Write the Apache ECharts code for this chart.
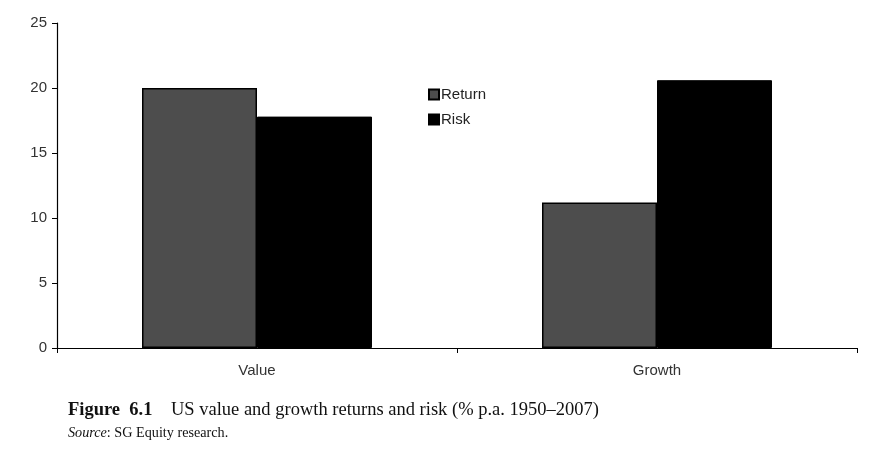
<!DOCTYPE html>
<html>
<head>
<meta charset="utf-8">
<script src="https://cdn.jsdelivr.net/npm/echarts@6/dist/echarts.min.js"></script>
<style>
html,body{margin:0;padding:0;background:#fff;}
#chart{width:869px;height:455px;}
</style>
</head>
<body>
<div id="chart"></div>
<script>
const categories = ['Value', 'Growth'];
const returnValues = [20.0, 11.2];
const riskValues = [17.8, 20.6];
const yTicks = [0, 5, 10, 15, 20, 25];

const chart = echarts.init(document.getElementById('chart'), null, {renderer: 'canvas'});
chart.setOption({
  animation: false,
  backgroundColor: '#fff',
  grid: {left: 57, right: 12, top: 23, bottom: 107, containLabel: false},
  legend: {
    orient: 'vertical', left: 423, top: 82,
    itemWidth: 10, itemHeight: 10, itemGap: 10,
    icon: 'rect',
    textStyle: {fontFamily: 'Liberation Sans, Arial', fontSize: 15, color: '#222', padding: [0,0,0,-3]},
    data: ['Return', 'Risk']
  },
  xAxis: {
    type: 'category', data: categories,
    axisLine: {lineStyle: {color: '#000', width: 1.2}},
    axisTick: {show: true, length: 5, lineStyle: {color: '#000'}},
    axisLabel: {fontFamily: 'Liberation Sans, Arial', fontSize: 15, color: '#333', margin: 15}
  },
  yAxis: {
    type: 'value', min: yTicks[0], max: yTicks[yTicks.length-1], interval: 5,
    splitLine: {show: false},
    axisLine: {show: true, lineStyle: {color: '#000', width: 1.2}},
    axisTick: {show: true, length: 5, lineStyle: {color: '#000'}},
    axisLabel: {fontFamily: 'Liberation Sans, Arial', fontSize: 15, color: '#333', margin: 10}
  },
  series: [
    {name: 'Return', type: 'bar', data: returnValues, barGap: '0%', barCategoryGap: '42.5%',
     itemStyle: {color: '#4d4d4d', borderColor: '#000', borderWidth: 1.5}},
    {name: 'Risk', type: 'bar', data: riskValues,
     itemStyle: {color: '#000', borderColor: '#000', borderWidth: 1}}
  ],
  graphic: [
    {type: 'text', left: 68, top: 401, style: {
      rich: {b: {fontFamily: 'Liberation Serif, Times New Roman', fontSize: 18.5, fontWeight: 'bold', fill: '#111'},
             n: {fontFamily: 'Liberation Serif, Times New Roman', fontSize: 18.5, fill: '#111'}},
      text: '{b|Figure  6.1}{n|    US value and growth returns and risk (% p.a. 1950–2007)}'}},
    {type: 'text', left: 68, top: 426, style: {
      rich: {i: {fontFamily: 'Liberation Serif, Times New Roman', fontSize: 14.2, fontStyle: 'italic', fill: '#111'},
             n: {fontFamily: 'Liberation Serif, Times New Roman', fontSize: 14.2, fill: '#111'}},
      text: '{i|Source}{n|: SG Equity research.}'}}
  ]
});
</script>
</body>
</html>
